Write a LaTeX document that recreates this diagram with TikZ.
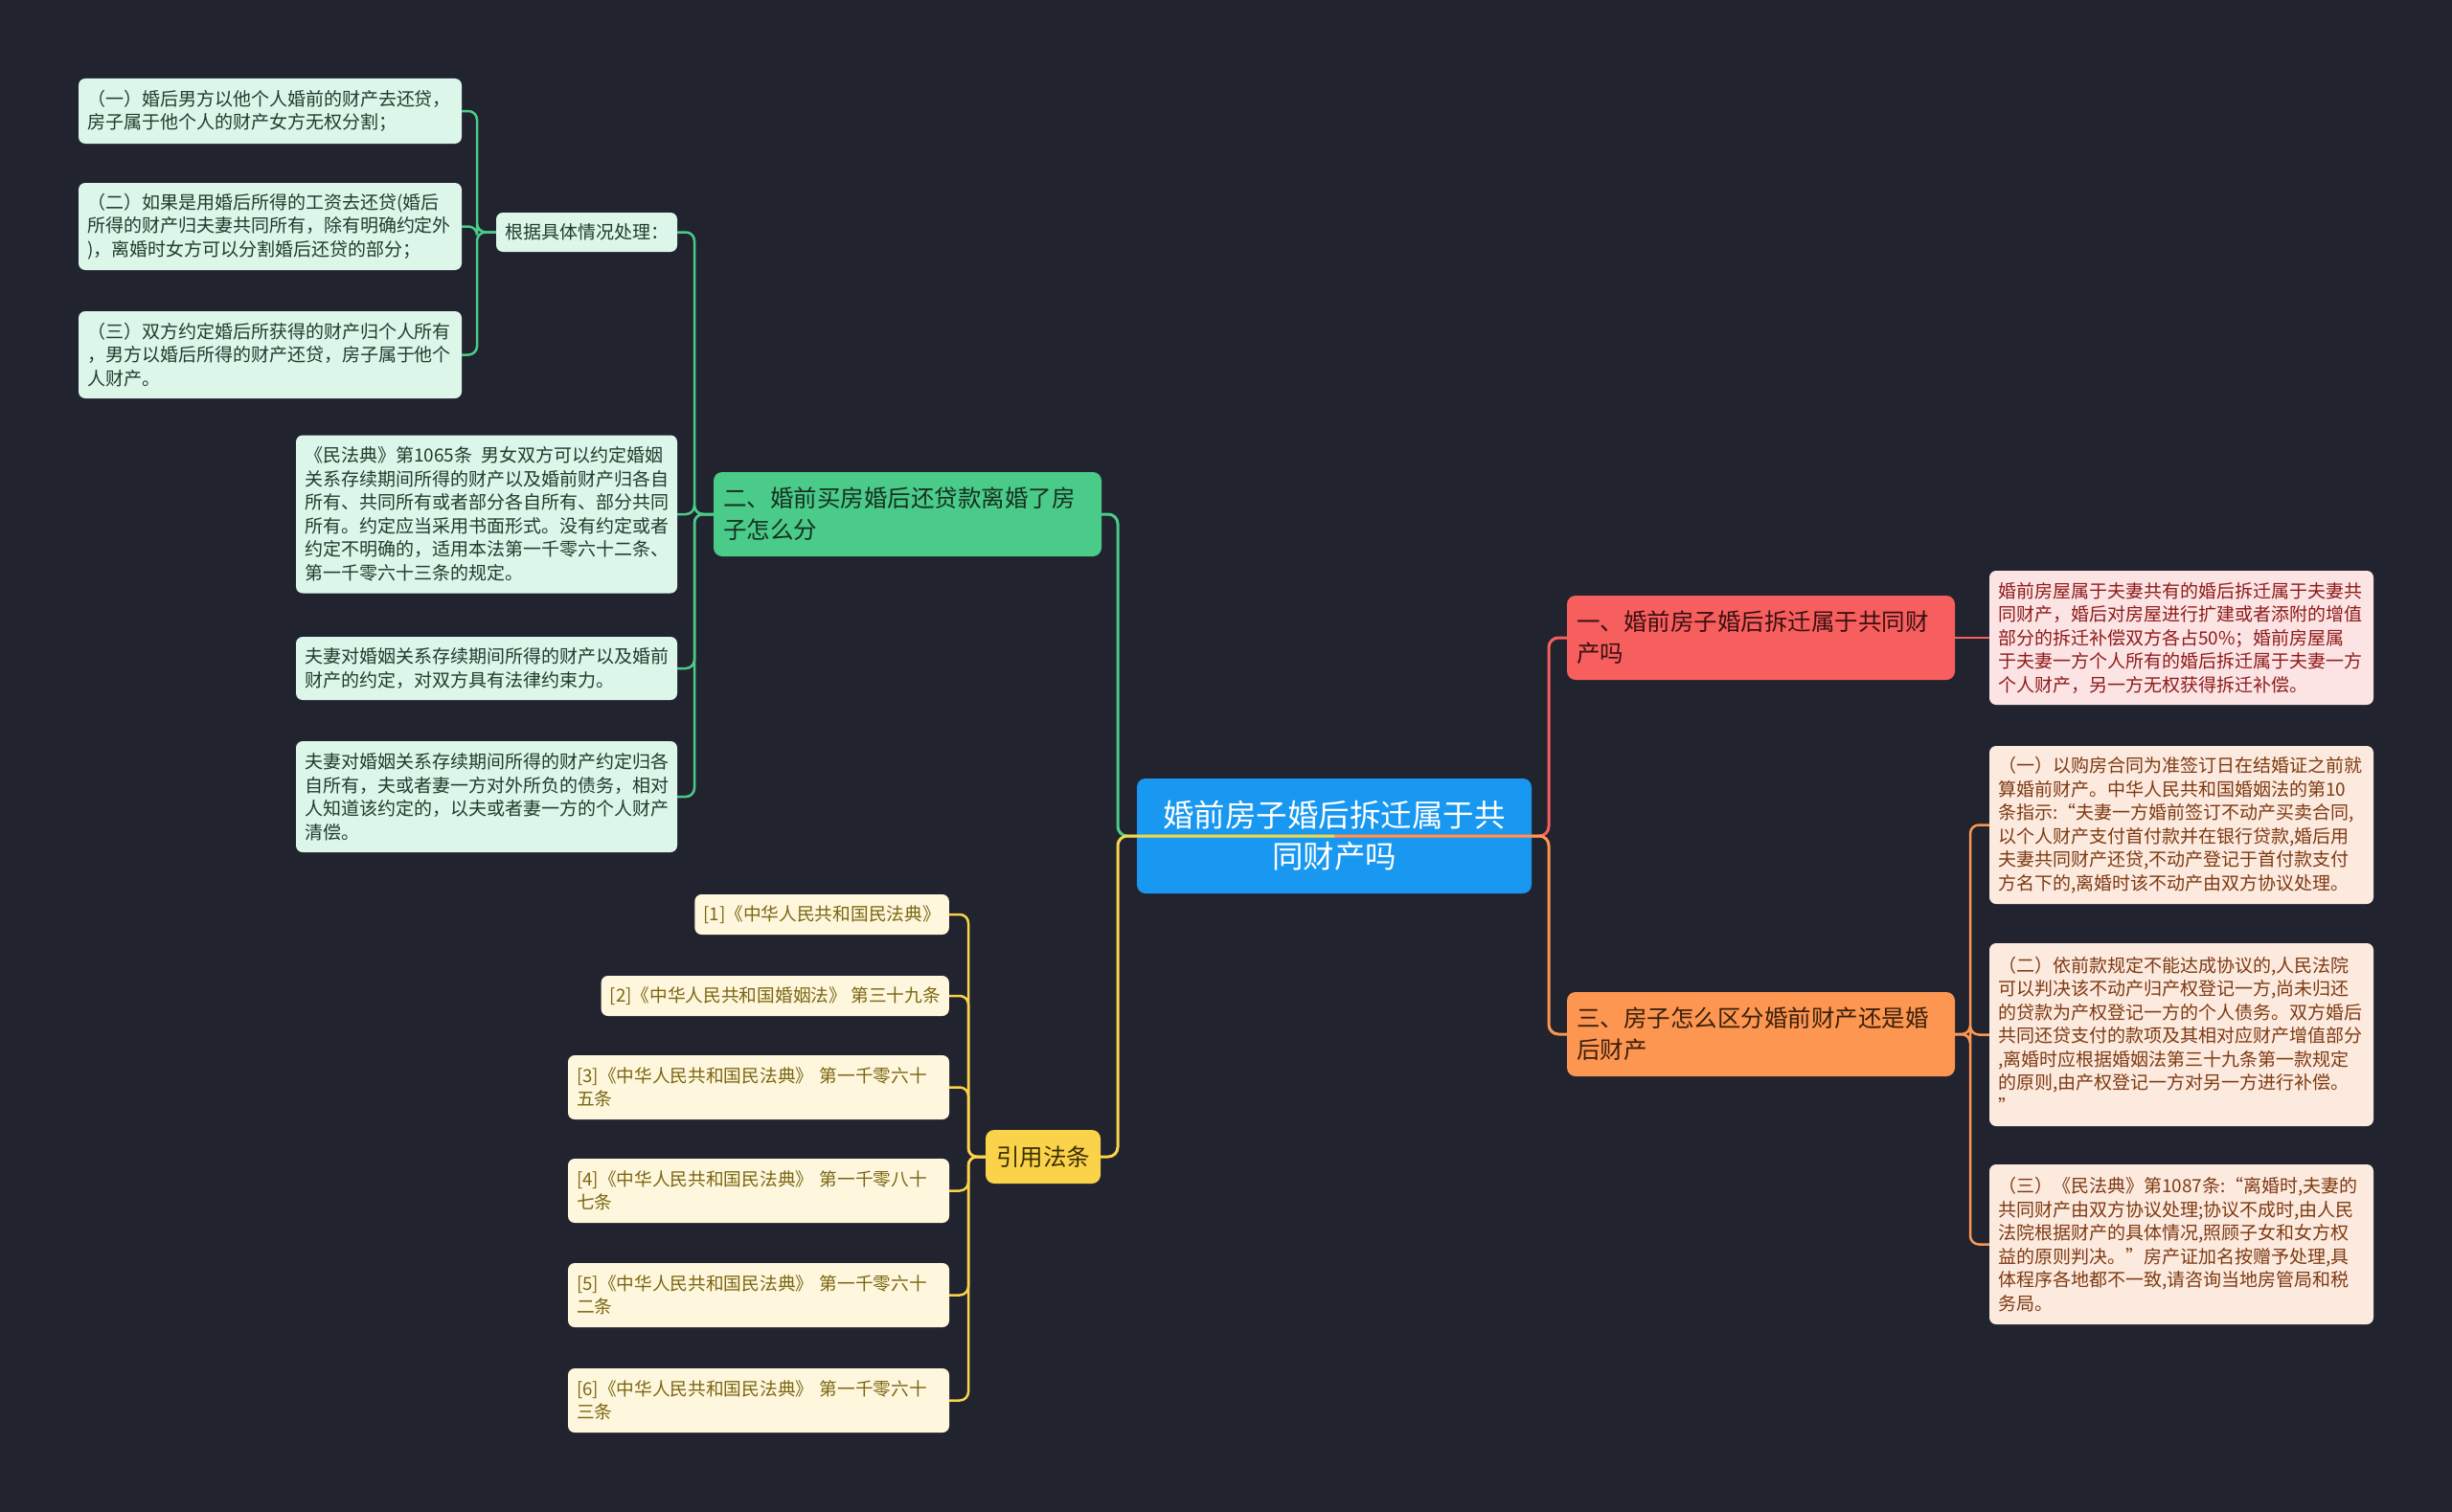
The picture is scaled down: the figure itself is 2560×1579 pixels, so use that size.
\documentclass[tikz,border=0pt]{standalone}
\usepackage{fontspec}
\newfontfamily\cjk{Noto Sans CJK SC}
\definecolor{bgc}{HTML}{21242F}
\definecolor{rootc}{HTML}{1998F1}
\definecolor{gmainc}{HTML}{4ACB8A}
\definecolor{gleafc}{HTML}{DCF6E9}
\definecolor{gtextc}{HTML}{1F3D2C}
\definecolor{gbtextc}{HTML}{17301F}
\definecolor{rmainc}{HTML}{F75E5E}
\definecolor{rleafc}{HTML}{FDE4E4}
\definecolor{rtextc}{HTML}{8E1B1B}
\definecolor{rbtextc}{HTML}{3A1010}
\definecolor{omainc}{HTML}{FC9650}
\definecolor{oleafc}{HTML}{FDEADF}
\definecolor{otextc}{HTML}{7D3A12}
\definecolor{obtextc}{HTML}{3B1F0C}
\definecolor{ymainc}{HTML}{FBD34A}
\definecolor{yleafc}{HTML}{FEF7DD}
\definecolor{ytextc}{HTML}{7B6611}
\definecolor{ybtextc}{HTML}{3A2F05}
\begin{document}
\begin{tikzpicture}[x=1pt,y=-1pt,
  base/.style={rounded corners=7pt, inner xsep=9pt, inner ysep=0pt, anchor=center},
  leaf/.style={base, align=left, font=\cjk\fontsize{19}{24.5}\selectfont},
  yleafst/.style={base, align=left, fill=yleafc, text=ytextc, font=\cjk\fontsize{18.7}{24.5}\selectfont, minimum height=42pt},
  branch/.style={base, rounded corners=9pt, inner xsep=10pt, align=left, text width=385pt, minimum height=88pt, font=\cjk\fontsize{24.5}{33}\selectfont},
  gleaf/.style={leaf, fill=gleafc, text=gtextc},
  rleaf/.style={leaf, fill=rleafc, text=rtextc},
  oleaf/.style={leaf, fill=oleafc, text=otextc, text width=383pt},
  conn/.style={line width=3pt, rounded corners=10pt},
  lconn/.style={line width=2.5pt, rounded corners=9pt}
]
\fill[bgc] (0,0) rectangle (2560,1579);
\useasboundingbox (0,0) rectangle (2560,1579);

% root
\node[base, rounded corners=9pt, fill=rootc, text=white, align=center, text width=394pt, minimum height=120pt,
  font=\cjk\fontsize{32.5}{43}\selectfont] (root) at (1393,873) {婚前房子婚后拆迁属于共\\同财产吗};

% main branches
\node[branch, fill=gmainc, text=gbtextc] (B2) at (947.5,537) {二、婚前买房婚后还贷款离婚了房\\子怎么分};
\node[branch, fill=rmainc, text=rbtextc] (B1) at (1838.5,666) {一、婚前房子婚后拆迁属于共同财\\产吗};
\node[branch, fill=omainc, text=obtextc] (B3) at (1838.5,1080) {三、房子怎么区分婚前财产还是婚\\后财产};
\node[base, rounded corners=9pt, fill=ymainc, text=ybtextc, minimum width=120pt, minimum height=56pt,
  font=\cjk\fontsize{24.5}{33}\selectfont] (B4) at (1089,1208) {引用法条};

% green sub node and its leaves
\node[base, fill=gleafc, text=gtextc, minimum width=189pt, minimum height=41pt,
  font=\cjk\fontsize{19}{24.5}\selectfont] (S) at (612.5,242.5) {根据具体情况处理：};
\node[gleaf, text width=382pt, minimum height=68pt] (L1) at (282,116) {（一）婚后男方以他个人婚前的财产去还贷，\\房子属于他个人的财产女方无权分割；};
\node[gleaf, text width=382pt, minimum height=91pt] (L2) at (282,236.5) {（二）如果是用婚后所得的工资去还贷(婚后\\所得的财产归夫妻共同所有，除有明确约定外\\)，离婚时女方可以分割婚后还贷的部分；};
\node[gleaf, text width=382pt, minimum height=91pt] (L3) at (282,370.5) {（三）双方约定婚后所获得的财产归个人所有\\，男方以婚后所得的财产还贷，房子属于他个\\人财产。};

% green leaves
\node[gleaf, text width=380pt, minimum height=165pt] (G1) at (508,537) {《民法典》第1065条\hspace{0.5em}男女双方可以约定婚姻\\关系存续期间所得的财产以及婚前财产归各自\\所有、共同所有或者部分各自所有、部分共同\\所有。约定应当采用书面形式。没有约定或者\\约定不明确的，适用本法第一千零六十二条、\\第一千零六十三条的规定。};
\node[gleaf, text width=380pt, minimum height=66pt] (G2) at (508,698) {夫妻对婚姻关系存续期间所得的财产以及婚前\\财产的约定，对双方具有法律约束力。};
\node[gleaf, text width=380pt, minimum height=116pt] (G3) at (508,832) {夫妻对婚姻关系存续期间所得的财产约定归各\\自所有，夫或者妻一方对外所负的债务，相对\\人知道该约定的，以夫或者妻一方的个人财产\\清偿。};

% red leaf
\node[rleaf, text width=383pt, minimum height=140pt] (R1) at (2277.5,666) {婚前房屋属于夫妻共有的婚后拆迁属于夫妻共\\同财产，婚后对房屋进行扩建或者添附的增值\\部分的拆迁补偿双方各占50\%；婚前房屋属\\于夫妻一方个人所有的婚后拆迁属于夫妻一方\\个人财产，另一方无权获得拆迁补偿。};

% orange leaves
\node[oleaf, minimum height=165pt] (O1) at (2277.5,861.5) {（一）以购房合同为准签订日在结婚证之前就\\算婚前财产。中华人民共和国婚姻法的第10\\条指示:“夫妻一方婚前签订不动产买卖合同,\\以个人财产支付首付款并在银行贷款,婚后用\\夫妻共同财产还贷,不动产登记于首付款支付\\方名下的,离婚时该不动产由双方协议处理。};
\node[oleaf, minimum height=191pt] (O2) at (2277.5,1080.5) {（二）依前款规定不能达成协议的,人民法院\\可以判决该不动产归产权登记一方,尚未归还\\的贷款为产权登记一方的个人债务。双方婚后\\共同还贷支付的款项及其相对应财产增值部分\\,离婚时应根据婚姻法第三十九条第一款规定\\的原则,由产权登记一方对另一方进行补偿。\\”};
\node[oleaf, minimum height=167pt] (O3) at (2277.5,1299.5) {（三）《民法典》第1087条:“离婚时,夫妻的\\共同财产由双方协议处理;协议不成时,由人民\\法院根据财产的具体情况,照顾子女和女方权\\益的原则判决。”房产证加名按赠予处理,具\\体程序各地都不一致,请咨询当地房管局和税\\务局。};

% yellow leaves
\node[yleafst, anchor=east] (Y1) at (991,955) {[1]《中华人民共和国民法典》};
\node[yleafst, anchor=east] (Y2) at (991,1040) {[2]《中华人民共和国婚姻法》 第三十九条};
\node[yleafst, text width=380pt, minimum height=67pt] (Y3) at (792,1135.5) {[3]《中华人民共和国民法典》 第一千零六十\\五条};
\node[yleafst, text width=380pt, minimum height=67pt] (Y4) at (792,1243.5) {[4]《中华人民共和国民法典》 第一千零八十\\七条};
\node[yleafst, text width=380pt, minimum height=67pt] (Y5) at (792,1352.5) {[5]《中华人民共和国民法典》 第一千零六十\\二条};
\node[yleafst, text width=380pt, minimum height=67pt] (Y6) at (792,1462.5) {[6]《中华人民共和国民法典》 第一千零六十\\三条};

% trunk coordinates
\coordinate (tl) at (1167,0);
\coordinate (tr) at (1617,0);
\coordinate (tg) at (725,0);
\coordinate (ts) at (498,0);
\coordinate (ty) at (1011,0);
\coordinate (tor) at (2057,0);

% root connectors
\draw[conn, gmainc] (root.center) -- (root.center -| tl) |- (B2.east);
\draw[conn, ymainc] (root.center) -- (root.center -| tl) |- (B4.east);
\draw[conn, rmainc] (root.center) -- (root.center -| tr) |- (B1.west);
\draw[conn, omainc] (root.center) -- (root.center -| tr) |- (B3.west);

% green connectors
\foreach \n in {S,G1,G2,G3}
  \draw[lconn, gmainc] (B2.west) -- (B2.west -| tg) |- (\n.east);
\foreach \n in {L1,L2,L3}
  \draw[lconn, gmainc] (S.west) -- (S.west -| ts) |- (\n.east);

% red connector
\draw[lconn, rmainc] (B1.east) -- (R1.west);

% orange connectors
\foreach \n in {O1,O2,O3}
  \draw[lconn, omainc] (B3.east) -- (B3.east -| tor) |- (\n.west);

% yellow connectors
\foreach \n in {Y1,Y2,Y3,Y4,Y5,Y6}
  \draw[lconn, ymainc] (B4.west) -- (B4.west -| ty) |- (\n.east);
\end{tikzpicture}
\end{document}
